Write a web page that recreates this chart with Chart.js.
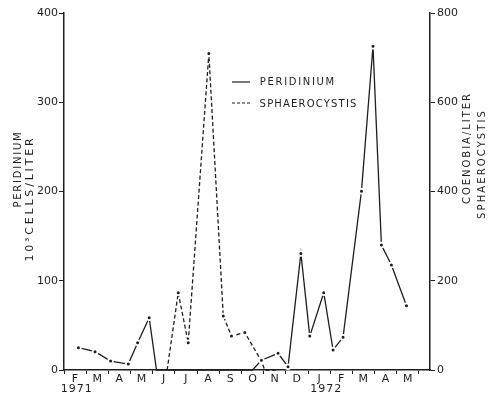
<!DOCTYPE html>
<html><head><meta charset="utf-8">
<script src="https://cdn.jsdelivr.net/npm/chart.js@4/dist/chart.umd.min.js"></script>
<style>html,body{margin:0;padding:0;background:#fff}#wrap{width:488px;height:396px}</style>
</head><body><div id="wrap"><canvas id="c" width="488" height="396"></canvas></div>
<script>
// ---- data (x = months since 1 Feb 1971) ----
const monthLabels = ['F','M','A','M','J','J','A','S','O','N','D','J','F','M','A','M'];
const yearLabels = ['1971', '1972'];
const yearPositions = [0.55, 11.8];
const peridiniumMonth = [0.65, 1.40, 2.10, 2.90, 3.32, 3.84, 4.17, 8.50, 8.90, 9.65, 10.10, 10.68, 11.08, 11.71, 12.13, 12.58, 13.41, 13.93, 14.31, 14.76, 15.44];
const peridiniumValue = [25, 20.5, 10, 6.7, 30.6, 58.6, 0, 0, 11, 18.7, 3.7, 130.6, 38, 86.6, 22.4, 36.6, 200.4, 362.8, 140, 117.6, 72];
const sphaeroMonth = [4.65, 5.15, 5.60, 6.53, 7.18, 7.55, 8.15, 8.90, 9.05, 9.60];
const sphaeroValue = [0, 173, 61, 709, 121, 76, 84, 20, 0, 0];
const leftTicks = [0, 100, 200, 300, 400];
const rightTicks = [0, 200, 400, 600, 800];

const INK = '#1e1e1e';
const FONT = '"DejaVu Sans", "Liberation Sans", sans-serif';

function spacedText(ctx, text, cx, cy, width, rotate) {
  ctx.save();
  ctx.translate(cx, cy);
  if (rotate) ctx.rotate(-Math.PI / 2);
  ctx.letterSpacing = '0px';
  const w = ctx.measureText(text).width;
  const sp = Math.max(0, (width - w) / text.length);
  ctx.letterSpacing = sp + 'px';
  ctx.textAlign = 'center';
  ctx.textBaseline = 'middle';
  ctx.fillText(text, sp / 2, 0);
  ctx.restore();
}

const annot = {
  id: 'annot',
  afterDraw(chart) {
    const ctx = chart.ctx;
    const xs = chart.scales.x;
    ctx.save();
    ctx.fillStyle = INK;
    ctx.strokeStyle = INK;
    ctx.font = '10px ' + FONT;
    // axis titles
    spacedText(ctx, 'PERIDINIUM', 18, 170, 77, true);
    ctx.font = '11px ' + FONT;
    spacedText(ctx, '10³CELLS/LITER', 30, 200, 126, true);
    ctx.font = '10px ' + FONT;
    spacedText(ctx, 'COENOBIA/LITER', 467, 149, 112, true);
    spacedText(ctx, 'SPHAEROCYSTIS', 482, 165, 110, true);
    // legend
    ctx.lineWidth = 1.2;
    ctx.beginPath(); ctx.moveTo(232, 82); ctx.lineTo(250, 82); ctx.stroke();
    ctx.setLineDash([3, 2]);
    ctx.beginPath(); ctx.moveTo(232, 103); ctx.lineTo(251, 103); ctx.stroke();
    ctx.setLineDash([]);
    spacedText(ctx, 'PERIDINIUM', 259 + 38, 82, 76, false);
    spacedText(ctx, 'SPHAEROCYSTIS', 259 + 49, 104, 98, false);
    // year labels
    ctx.font = '11px ' + FONT;
    yearLabels.forEach((t, i) => spacedText(ctx, t, xs.getPixelForValue(yearPositions[i]), 389, 32, false));
    ctx.restore();
  }
};

const ptRadius = c => (c.raw && c.raw.y > 0) ? 2.4 : 0;

new Chart(document.getElementById('c'), {
  type: 'line',
  data: {
    datasets: [
      {
        label: 'PERIDINIUM',
        data: peridiniumMonth.map((m, i) => ({ x: m, y: peridiniumValue[i] })),
        yAxisID: 'y',
        borderColor: INK, borderWidth: 1.3, tension: 0, fill: false,
        pointRadius: ptRadius, pointBackgroundColor: INK, pointBorderColor: '#fff', pointBorderWidth: 1.8,
        clip: false
      },
      {
        label: 'SPHAEROCYSTIS',
        data: sphaeroMonth.map((m, i) => ({ x: m, y: sphaeroValue[i] })),
        yAxisID: 'y2',
        borderColor: INK, borderWidth: 1.3, borderDash: [4, 2.5], tension: 0, fill: false,
        pointRadius: ptRadius, pointBackgroundColor: INK, pointBorderColor: '#fff', pointBorderWidth: 1.8,
        clip: false
      }
    ]
  },
  options: {
    responsive: false, animation: false, devicePixelRatio: 1,
    layout: { padding: { top: 13, left: 0, right: 0, bottom: 0 } },
    plugins: { legend: { display: false }, tooltip: { enabled: false } },
    scales: {
      x: {
        type: 'linear', position: 'bottom', min: 0, max: 16.5,
        afterBuildTicks: s => { s.ticks = monthLabels.map((_, i) => ({ value: i })).concat([{ value: 16 }]); },
        afterFit: s => { s.height = 26; },
        ticks: {
          callback: v => monthLabels[v] ?? '', labelOffset: 11, maxRotation: 0, minRotation: 0,
          autoSkip: false, padding: -1, color: INK, font: { family: FONT, size: 11 }
        },
        grid: { drawOnChartArea: false, drawTicks: true, tickLength: 4, color: INK, lineWidth: 1 },
        border: { color: INK, width: 1.5 }
      },
      y: {
        type: 'linear', position: 'left', min: 0, max: 400,
        afterBuildTicks: s => { s.ticks = leftTicks.map(v => ({ value: v })); },
        afterFit: s => { s.width = 64; },
        ticks: { padding: 1, color: INK, font: { family: FONT, size: 11 } },
        grid: { drawOnChartArea: false, drawTicks: true, tickLength: 5, color: INK, lineWidth: 1 },
        border: { color: INK, width: 1.5 }
      },
      y2: {
        type: 'linear', position: 'right', min: 0, max: 800,
        afterBuildTicks: s => { s.ticks = rightTicks.map(v => ({ value: v })); },
        afterFit: s => { s.width = 58; },
        ticks: { padding: 2, color: INK, font: { family: FONT, size: 11 } },
        grid: { drawOnChartArea: false, drawTicks: true, tickLength: 5, color: INK, lineWidth: 1 },
        border: { color: INK, width: 1.5 }
      }
    }
  },
  plugins: [annot]
});
</script>
</body></html>
